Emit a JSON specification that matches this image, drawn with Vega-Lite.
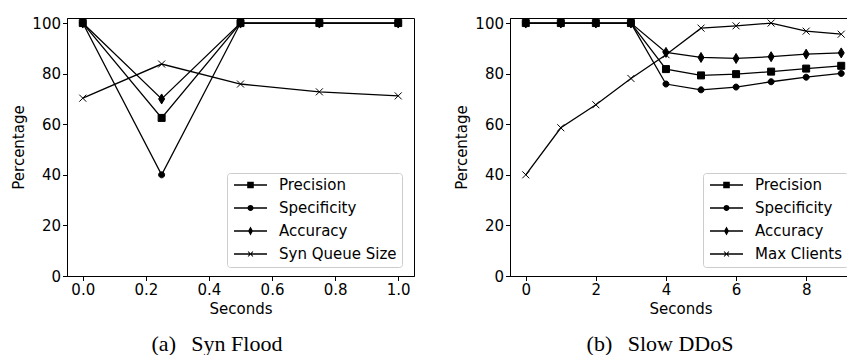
{
  "$schema": "https://vega.github.io/schema/vega-lite/v6.json",
  "padding": {"left": 11, "top": 15, "right": 0, "bottom": 0},
  "background": "white",
  "config": {
    "font": "DejaVu Sans",
    "view": {"stroke": "black", "strokeWidth": 1},
    "axis": {
      "domainColor": "black", "tickColor": "black", "labelColor": "black", "titleColor": "black",
      "labelFont": "DejaVu Sans", "titleFont": "DejaVu Sans",
      "labelFontSize": 15, "titleFontSize": 15, "titleFontWeight": "normal",
      "tickSize": 4.5, "labelPadding": 2, "grid": false, "domainWidth": 1, "tickWidth": 1
    },
    "axisY": {"titlePadding": 5},
    "axisX": {"titlePadding": 4},
    "legend": {
      "labelFont": "DejaVu Sans", "labelFontSize": 15, "labelColor": "black",
      "symbolSize": 1089, "clipHeight": 14, "rowPadding": 8, "labelOffset": 12,
      "padding": 5, "strokeColor": "#cccccc", "fillColor": "rgba(255,255,255,0.8)",
      "cornerRadius": 3, "symbolStrokeColor": "black", "symbolFillColor": "black",
      "symbolStrokeWidth": 0, "symbolOffset": 2
    },
    "title": {"font": "Liberation Serif", "fontSize": 22, "fontWeight": "normal", "orient": "bottom", "color": "black", "offset": 17}
  },
  "datasets": {
    "syn": [
      {"series": "Precision", "x": 0, "y": 100},
      {"series": "Precision", "x": 0.25, "y": 62.5},
      {"series": "Precision", "x": 0.5, "y": 100},
      {"series": "Precision", "x": 0.75, "y": 100},
      {"series": "Precision", "x": 1, "y": 100},
      {"series": "Specificity", "x": 0, "y": 100},
      {"series": "Specificity", "x": 0.25, "y": 40},
      {"series": "Specificity", "x": 0.5, "y": 100},
      {"series": "Specificity", "x": 0.75, "y": 100},
      {"series": "Specificity", "x": 1, "y": 100},
      {"series": "Accuracy", "x": 0, "y": 100},
      {"series": "Accuracy", "x": 0.25, "y": 70},
      {"series": "Accuracy", "x": 0.5, "y": 100},
      {"series": "Accuracy", "x": 0.75, "y": 100},
      {"series": "Accuracy", "x": 1, "y": 100},
      {"series": "Syn Queue Size", "x": 0, "y": 70.3},
      {"series": "Syn Queue Size", "x": 0.25, "y": 83.8},
      {"series": "Syn Queue Size", "x": 0.5, "y": 75.9},
      {"series": "Syn Queue Size", "x": 0.75, "y": 72.8},
      {"series": "Syn Queue Size", "x": 1, "y": 71.2}
    ],
    "slow": [
      {"series": "Precision", "x": 0, "y": 100},
      {"series": "Precision", "x": 1, "y": 100},
      {"series": "Precision", "x": 2, "y": 100},
      {"series": "Precision", "x": 3, "y": 100},
      {"series": "Precision", "x": 4, "y": 81.8},
      {"series": "Precision", "x": 5, "y": 79.3},
      {"series": "Precision", "x": 6, "y": 79.8},
      {"series": "Precision", "x": 7, "y": 80.8},
      {"series": "Precision", "x": 8, "y": 82.0},
      {"series": "Precision", "x": 9, "y": 83.1},
      {"series": "Specificity", "x": 0, "y": 100},
      {"series": "Specificity", "x": 1, "y": 100},
      {"series": "Specificity", "x": 2, "y": 100},
      {"series": "Specificity", "x": 3, "y": 100},
      {"series": "Specificity", "x": 4, "y": 75.9},
      {"series": "Specificity", "x": 5, "y": 73.6},
      {"series": "Specificity", "x": 6, "y": 74.7},
      {"series": "Specificity", "x": 7, "y": 76.8},
      {"series": "Specificity", "x": 8, "y": 78.6},
      {"series": "Specificity", "x": 9, "y": 80.1},
      {"series": "Accuracy", "x": 0, "y": 100},
      {"series": "Accuracy", "x": 1, "y": 100},
      {"series": "Accuracy", "x": 2, "y": 100},
      {"series": "Accuracy", "x": 3, "y": 100},
      {"series": "Accuracy", "x": 4, "y": 88.4},
      {"series": "Accuracy", "x": 5, "y": 86.4},
      {"series": "Accuracy", "x": 6, "y": 86.0},
      {"series": "Accuracy", "x": 7, "y": 86.7},
      {"series": "Accuracy", "x": 8, "y": 87.7},
      {"series": "Accuracy", "x": 9, "y": 88.2},
      {"series": "Max Clients", "x": 0, "y": 40},
      {"series": "Max Clients", "x": 1, "y": 58.6},
      {"series": "Max Clients", "x": 2, "y": 67.7},
      {"series": "Max Clients", "x": 3, "y": 78.1},
      {"series": "Max Clients", "x": 4, "y": 87.5},
      {"series": "Max Clients", "x": 5, "y": 98.0},
      {"series": "Max Clients", "x": 6, "y": 98.9},
      {"series": "Max Clients", "x": 7, "y": 100},
      {"series": "Max Clients", "x": 8, "y": 96.8},
      {"series": "Max Clients", "x": 9, "y": 95.6}
    ]
  },
  "resolve": {
    "scale": {"x": "independent", "y": "independent", "shape": "independent"},
    "legend": {"shape": "independent"}
  },
  "spacing": 39,
  "hconcat": [
    {
      "width": 347,
      "height": 258,
      "title": {"text": "(a)\u00a0\u00a0\u2009Syn Flood", "dx": -23.5},
      "data": {"name": "syn"},
      "encoding": {
        "x": {"field": "x", "type": "quantitative",
              "scale": {"domain": [-0.05, 1.05], "nice": false, "zero": false},
              "axis": {"values": [0, 0.2, 0.4, 0.6, 0.8, 1.0], "format": ".1f", "title": "Seconds"}},
        "y": {"field": "y", "type": "quantitative",
              "scale": {"domain": [0, 102], "nice": false},
              "axis": {"values": [0, 20, 40, 60, 80, 100], "title": "Percentage"}}
      },
      "layer": [
        {"mark": {"type": "line", "color": "black", "strokeWidth": 1.3},
         "encoding": {"detail": {"field": "series"}}},
        {"mark": {"type": "point", "filled": true, "color": "black", "stroke": "black", "strokeWidth": 1, "size": 100, "opacity": 1},
         "encoding": {"shape": {"field": "series",
           "scale": {"domain": ["Precision", "Specificity", "Accuracy", "Syn Queue Size"],
                     "range": ["M-0.7,-0.7H0.7V0.7H-0.7Z",
                               "M0.6,0A0.6,0.6 0 1,1 -0.6,0A0.6,0.6 0 1,1 0.6,0Z",
                               "M0,-1L0.6,0L0,1L-0.6,0Z",
                               "M-0.7,-0.7L0.7,0.7M-0.7,0.7L0.7,-0.7"]},
           "legend": null}}},
        {"mark": {"type": "point", "filled": true, "color": "black", "size": 0, "opacity": 1},
         "encoding": {"shape": {"field": "series",
           "scale": {"domain": ["Precision", "Specificity", "Accuracy", "Syn Queue Size"],
                     "range": ["M-1,-0.045H1V0.045H-1ZM-0.2,-0.2H0.2V0.2H-0.2Z",
                               "M-1,-0.045H1V0.045H-1ZM0.18,0A0.18,0.18 0 1,1 -0.18,0A0.18,0.18 0 1,1 0.18,0Z",
                               "M-1,-0.045H1V0.045H-1ZM0,-0.27L0.15,0L0,0.27L-0.15,0Z",
                               "M-1,-0.045H1V0.045H-1ZM-0.129,-0.171L0.171,0.129L0.129,0.171L-0.171,-0.129ZM-0.171,0.129L0.129,-0.171L0.171,-0.129L-0.129,0.171Z"]},
           "legend": {"orient": "none", "legendX": 160, "legendY": 155, "title": null,
                      "encode": {"symbols": {"update": {"fill": {"value": "black"}, "opacity": {"value": 1}}}}}}}}
      ],
      "resolve": {"scale": {"shape": "independent"}, "legend": {"shape": "independent"}}
    },
    {
      "width": 341,
      "height": 258,
      "title": {"text": "(b)\u00a0\u00a0\u2009Slow DDoS", "dx": -20.5},
      "data": {"name": "slow"},
      "encoding": {
        "x": {"field": "x", "type": "quantitative",
              "scale": {"domain": [-0.45, 9.279], "nice": false, "zero": false},
              "axis": {"values": [0, 2, 4, 6, 8], "format": "d", "title": "Seconds"}},
        "y": {"field": "y", "type": "quantitative",
              "scale": {"domain": [0, 102], "nice": false},
              "axis": {"values": [0, 20, 40, 60, 80, 100], "title": "Percentage"}}
      },
      "layer": [
        {"mark": {"type": "line", "color": "black", "strokeWidth": 1.3},
         "encoding": {"detail": {"field": "series"}}},
        {"mark": {"type": "point", "filled": true, "color": "black", "stroke": "black", "strokeWidth": 1, "size": 100, "opacity": 1},
         "encoding": {"shape": {"field": "series",
           "scale": {"domain": ["Precision", "Specificity", "Accuracy", "Max Clients"],
                     "range": ["M-0.7,-0.7H0.7V0.7H-0.7Z",
                               "M0.6,0A0.6,0.6 0 1,1 -0.6,0A0.6,0.6 0 1,1 0.6,0Z",
                               "M0,-1L0.6,0L0,1L-0.6,0Z",
                               "M-0.7,-0.7L0.7,0.7M-0.7,0.7L0.7,-0.7"]},
           "legend": null}}},
        {"mark": {"type": "point", "filled": true, "color": "black", "size": 0, "opacity": 1},
         "encoding": {"shape": {"field": "series",
           "scale": {"domain": ["Precision", "Specificity", "Accuracy", "Max Clients"],
                     "range": ["M-1,-0.045H1V0.045H-1ZM-0.2,-0.2H0.2V0.2H-0.2Z",
                               "M-1,-0.045H1V0.045H-1ZM0.18,0A0.18,0.18 0 1,1 -0.18,0A0.18,0.18 0 1,1 0.18,0Z",
                               "M-1,-0.045H1V0.045H-1ZM0,-0.27L0.15,0L0,0.27L-0.15,0Z",
                               "M-1,-0.045H1V0.045H-1ZM-0.129,-0.171L0.171,0.129L0.129,0.171L-0.171,-0.129ZM-0.171,0.129L0.129,-0.171L0.171,-0.129L-0.129,0.171Z"]},
           "legend": {"orient": "none", "legendX": 193, "legendY": 155, "title": null,
                      "encode": {"symbols": {"update": {"fill": {"value": "black"}, "opacity": {"value": 1}}}}}}}}
      ],
      "resolve": {"scale": {"shape": "independent"}, "legend": {"shape": "independent"}}
    }
  ]
}
